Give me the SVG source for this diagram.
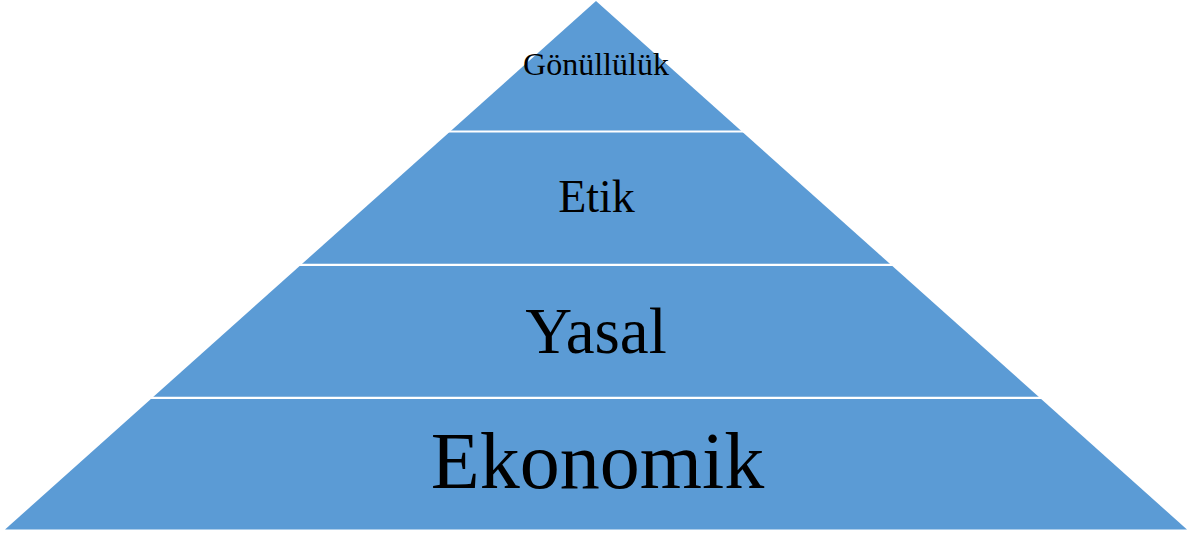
<svg xmlns="http://www.w3.org/2000/svg" width="1188" height="533" viewBox="0 0 1188 533">
  <style>
    .band { fill: #5B9BD5; }
    .sep { stroke: #FFFFFF; stroke-width: 2.2; }
    .lbl { font-family: "Liberation Serif", "Times New Roman", serif; fill: #000000; text-anchor: middle; }
  </style>
  <rect x="0" y="0" width="1188" height="533" fill="#FFFFFF"/>
  <g id="pyramid">
    <polygon class="band" points="596,1 5,529.5 1187,529.5"/>
  </g>
  <g id="separators">
    <line class="sep" x1="440" y1="131.5" x2="752" y2="131.5"/>
    <line class="sep" x1="290" y1="264.8" x2="902" y2="264.8"/>
    <line class="sep" x1="140" y1="397.8" x2="1052" y2="397.8"/>
  </g>
  <g id="level-gonulluluk">
    <text class="lbl" x="596" y="74.5" font-size="32">Gönüllülük</text>
  </g>
  <g id="level-etik">
    <text class="lbl" x="596.5" y="212" font-size="46">Etik</text>
  </g>
  <g id="level-yasal">
    <text class="lbl" x="596" y="353" font-size="65">Yasal</text>
  </g>
  <g id="level-ekonomik">
    <text class="lbl" x="597.5" y="488" font-size="80">Ekonomik</text>
  </g>
</svg>
